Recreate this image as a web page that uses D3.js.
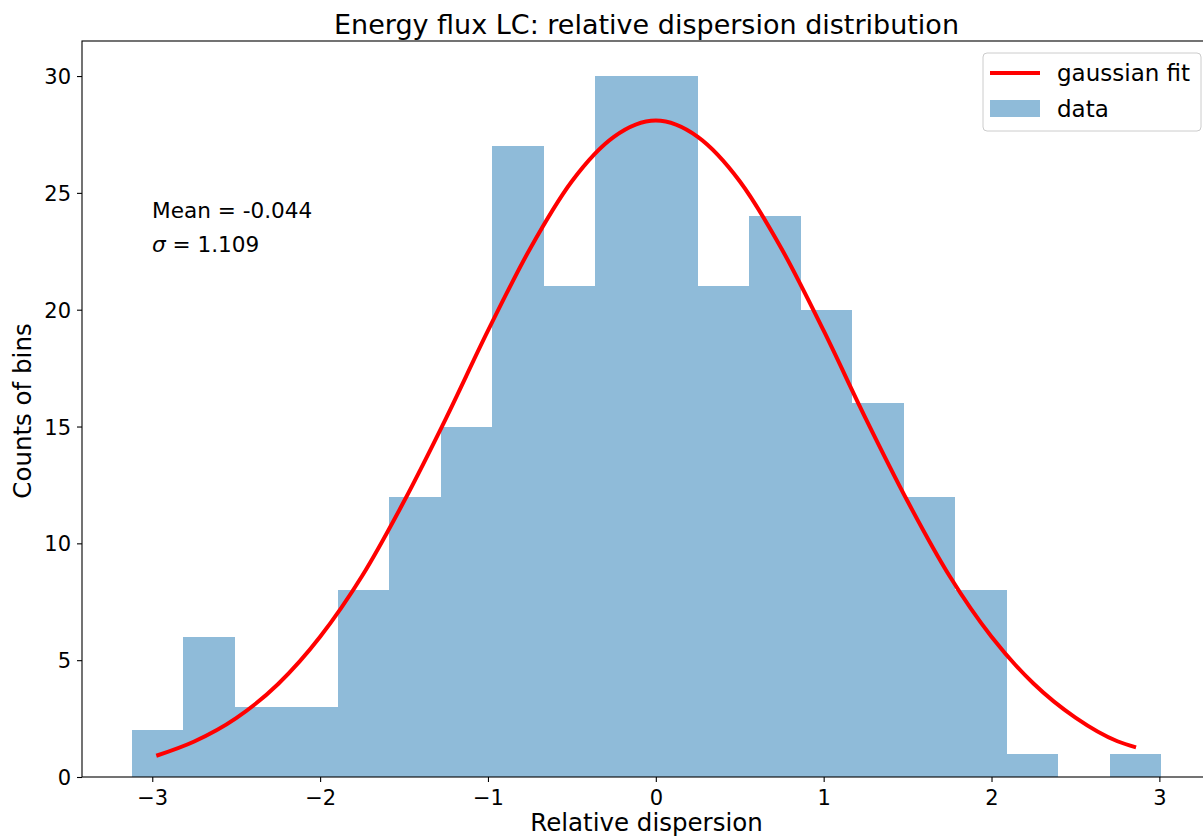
<!DOCTYPE html>
<html>
<head>
<meta charset="utf-8">
<script src="https://cdn.jsdelivr.net/npm/d3@7"></script>
<style>
  body { margin: 0; background: #fff; overflow: hidden; }
  text { font-family: "DejaVu Sans", sans-serif; fill: #000; }
</style>
</head>
<body>
<div id="chart"></div>
<script>
// histogram: bin edges + counts
const binEdges = [-3.121, -2.814, -2.508, -2.201, -1.895, -1.588, -1.282, -0.975, -0.669, -0.362,
                  -0.056, 0.251, 0.557, 0.864, 1.170, 1.477, 1.783, 2.090, 2.396, 2.703, 3.010]
const binCounts = [2, 6, 3, 3, 8, 12, 15, 27, 21, 30, 30, 21, 24, 20, 16, 12, 8, 1, 0, 1]

const fitX = [-2.976, -2.75, -2.5, -2.25, -2.0, -1.75, -1.5, -1.25, -1.0, -0.75, -0.5, -0.25, 0,
              0.25, 0.5, 0.75, 1.0, 1.25, 1.5, 1.75, 2.0, 2.25, 2.5, 2.75, 2.861]
const fitY = [0.91, 1.52, 2.52, 3.98, 6.0, 8.6, 11.8, 15.35, 19.1, 22.6, 25.5, 27.4, 28.1,
              27.4, 25.5, 22.6, 19.1, 15.35, 11.8, 8.6, 6.0, 4.0, 2.54, 1.53, 1.27]

const xTicks = [-3, -2, -1, 0, 1, 2, 3]
const yTicks = [0, 5, 10, 15, 20, 25, 30]

const statLines = ["Mean = -0.044", "1.109"]

let margin = {top: 41, right: -8, bottom: 59, left: 82},
    W = 1203, H = 836,
    width = W - margin.left - margin.right,
    height = H - margin.top - margin.bottom

let svg = d3.select("#chart").append("svg")
  .attr("width", W)
  .attr("height", H)

let g = svg.append("g")
  .attr("transform", "translate(" + margin.left + "," + margin.top + ")")

let x = d3.scaleLinear().domain([-3.4186, 3.3076]).range([0, width])
let y = d3.scaleLinear().domain([0, 31.5]).range([height, 0])

// bars
let bins = binCounts.map((c, i) => ({x0: binEdges[i], x1: binEdges[i + 1], n: c}))
g.selectAll("rect.bar")
  .data(bins)
  .enter().append("rect")
  .attr("class", "bar")
  .attr("x", d => x(d.x0))
  .attr("width", d => x(d.x1) - x(d.x0))
  .attr("y", d => y(d.n))
  .attr("height", d => y(0) - y(d.n))
  .attr("fill", "#1f77b4")
  .attr("fill-opacity", 0.5)
  .attr("shape-rendering", "crispEdges")

// fit line
let line = d3.line()
  .x(d => x(d[0]))
  .y(d => y(d[1]))
  .curve(d3.curveMonotoneX)

g.append("path")
  .datum(fitX.map((v, i) => [v, fitY[i]]))
  .attr("fill", "none")
  .attr("stroke", "red")
  .attr("stroke-width", 4)
  .attr("d", line)

// axes
let xAxis = g.append("g")
  .attr("transform", "translate(0," + height + ")")
  .call(d3.axisBottom(x).tickValues(xTicks).tickSize(5).tickPadding(6)
        .tickFormat(d => d < 0 ? "\u2212" + Math.abs(d) : d))
let yAxis = g.append("g")
  .call(d3.axisLeft(y).tickValues(yTicks).tickSize(5).tickPadding(6))

;[xAxis, yAxis].forEach(a => {
  a.selectAll("text").style("font-size", "21px").attr("fill", "#000")
  a.selectAll("line").attr("stroke", "#000").attr("stroke-width", 1.1)
  a.select(".domain").remove()
})
xAxis.selectAll("text").attr("dy", "0.82em")
yAxis.selectAll("text").attr("dy", "0.36em")

// spines
g.append("rect")
  .attr("x", 0).attr("y", 0)
  .attr("width", width).attr("height", height)
  .attr("fill", "none")
  .attr("stroke", "#000")
  .attr("stroke-width", 1.1)

// title + labels
svg.append("text")
  .attr("x", margin.left + width / 2)
  .attr("y", 34)
  .attr("text-anchor", "middle")
  .style("font-size", "27px")
  .text("Energy flux LC: relative dispersion distribution")

svg.append("text")
  .attr("x", margin.left + width / 2)
  .attr("y", 831)
  .attr("text-anchor", "middle")
  .style("font-size", "24.5px")
  .text("Relative dispersion")

svg.append("text")
  .attr("transform", "translate(31," + (margin.top + height / 2 + 2) + ") rotate(-90)")
  .attr("text-anchor", "middle")
  .style("font-size", "24.5px")
  .text("Counts of bins")

// stats text
svg.append("text")
  .attr("x", 152).attr("y", 218)
  .style("font-size", "21.6px")
  .text(statLines[0])

let sig = svg.append("text")
  .attr("x", 152).attr("y", 252)
  .style("font-size", "21.6px")
sig.append("tspan").style("font-style", "italic").text("\u03c3")
sig.append("tspan").text(" = " + statLines[1])

// legend
let leg = svg.append("g").attr("transform", "translate(983,53)")
leg.append("rect")
  .attr("width", 218).attr("height", 78)
  .attr("rx", 4)
  .attr("fill", "#fff").attr("fill-opacity", 0.8)
  .attr("stroke", "#ccc")
leg.append("line")
  .attr("x1", 7).attr("x2", 57)
  .attr("y1", 20).attr("y2", 20)
  .attr("stroke", "red").attr("stroke-width", 4)
leg.append("text")
  .attr("x", 74).attr("y", 28)
  .style("font-size", "23px")
  .text("gaussian fit")
leg.append("rect")
  .attr("x", 7).attr("y", 47)
  .attr("width", 50).attr("height", 17)
  .attr("fill", "#1f77b4").attr("fill-opacity", 0.5)
leg.append("text")
  .attr("x", 74).attr("y", 64)
  .style("font-size", "23px")
  .text("data")
</script>
</body>
</html>
